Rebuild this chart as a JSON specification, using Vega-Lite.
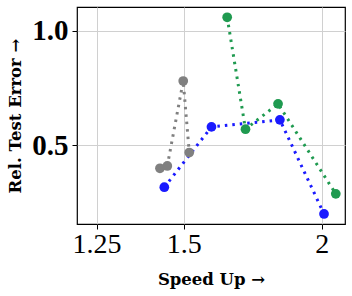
{
  "$schema": "https://vega.github.io/schema/vega-lite/v6.json",
  "width": 268,
  "height": 217,
  "autosize": "none",
  "padding": {"left": 77, "top": 7, "right": 7, "bottom": 72},
  "background": "white",
  "data": {
    "values": [
      {"series": "gray", "speedup": 1.427, "error": 0.399},
      {"series": "gray", "speedup": 1.449, "error": 0.409},
      {"series": "gray", "speedup": 1.498, "error": 0.781},
      {"series": "gray", "speedup": 1.517, "error": 0.468},
      {"series": "blue", "speedup": 1.440, "error": 0.316},
      {"series": "blue", "speedup": 1.589, "error": 0.580},
      {"series": "blue", "speedup": 1.833, "error": 0.611},
      {"series": "blue", "speedup": 2.010, "error": 0.199},
      {"series": "green", "speedup": 1.642, "error": 1.060},
      {"series": "green", "speedup": 1.706, "error": 0.570},
      {"series": "green", "speedup": 1.826, "error": 0.681},
      {"series": "green", "speedup": 2.060, "error": 0.287}
    ]
  },
  "config": {
    "view": {"stroke": "black", "strokeWidth": 1.2},
    "axis": {
      "gridColor": "#d0d0d0",
      "gridWidth": 1,
      "domain": false,
      "tickColor": "black",
      "tickSize": 5,
      "labelFont": "Liberation Serif",
      "labelColor": "black",
      "titleFont": "DejaVu Serif",
      "titleColor": "black",
      "titleFontWeight": "bold",
      "titleFontSize": 16.5
    }
  },
  "encoding": {
    "x": {
      "field": "speedup",
      "type": "quantitative",
      "scale": {"type": "log", "domain": [1.2, 2.1], "nice": false, "zero": false},
      "axis": {
        "title": "Speed Up →",
        "values": [1.25, 1.5, 2],
        "labelExpr": "datum.value",
        "labelFontSize": 28,
        "labelPadding": 1,
        "labelFlush": false,
        "titlePadding": 13
      }
    },
    "y": {
      "field": "error",
      "type": "quantitative",
      "scale": {"domain": [0.155, 1.105], "nice": false, "zero": false},
      "axis": {
        "title": "Rel. Test Error →",
        "values": [0.5, 1.0],
        "format": ".1f",
        "labelFontSize": 29,
        "labelFontWeight": "bold",
        "labelPadding": 4,
        "labelFlush": false,
        "titlePadding": 8
      }
    },
    "color": {
      "field": "series",
      "type": "nominal",
      "scale": {"domain": ["gray", "blue", "green"], "range": ["#808080", "#1a1aff", "#1f9a50"]},
      "legend": null
    }
  },
  "layer": [
    {
      "mark": {"type": "line", "strokeWidth": 3, "strokeDash": [2.5, 5], "clip": true}
    },
    {
      "mark": {"type": "point", "filled": true, "opacity": 1, "size": 95, "clip": true}
    }
  ]
}
